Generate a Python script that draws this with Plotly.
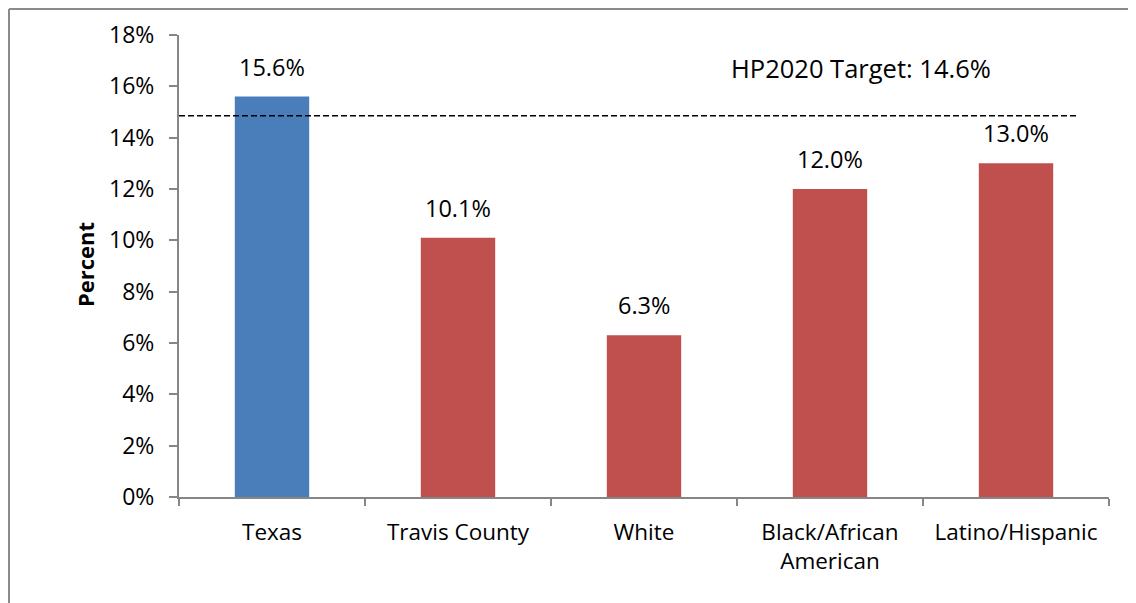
import plotly.graph_objects as go

categories = ["Texas", "Travis County", "White", "Black/African<br>American", "Latino/Hispanic"]
values = [15.6, 10.1, 6.3, 12.0, 13.0]
labels = ["15.6%", "10.1%", "6.3%", "12.0%", "13.0%"]
colors = ["#4A7EBB", "#C0504D", "#C0504D", "#C0504D", "#C0504D"]
target_line = 14.85
target_text = "HP2020 Target: 14.6%"
y_ticks = [0, 2, 4, 6, 8, 10, 12, 14, 16, 18]
y_tick_labels = ["0%", "2%", "4%", "6%", "8%", "10%", "12%", "14%", "16%", "18%"]

FONT = "Open Sans, Carlito, Lato, sans-serif"
FS = 22

# the page body adds an 8px offset; figure sized to the visible area
W, H = 1128, 595
L, R, T, B = 171, 27, 27, 106
PW, PH = W - L - R, H - T - B

fig = go.Figure()
fig.add_trace(go.Bar(
    x=categories, y=values, marker=dict(color=colors, line=dict(width=0)),
    width=0.4, showlegend=False, hoverinfo="skip",
))

for c, v, t in zip(categories, values, labels):
    fig.add_annotation(x=c, y=v, text=t, showarrow=False, yanchor="bottom",
                       xanchor="center", yshift=12,
                       font=dict(family=FONT, size=23.5, color="#000"))

fig.add_annotation(xref="paper", yref="paper", x=(861 - 8 - L) / PW,
                   y=(H - B - (68 - 8)) / PH, text=target_text,
                   xanchor="center", yanchor="middle",
                   showarrow=False, font=dict(family=FONT, size=25.5, color="#000"))

fig.add_annotation(xref="paper", yref="paper", x=(85 - 8 - L) / PW,
                   y=(H - B - (265 - 8)) / PH, text="<b>Percent</b>", textangle=-90,
                   xanchor="center", yanchor="middle",
                   showarrow=False, font=dict(family=FONT, size=FS, color="#000"))

fig.add_shape(type="line", xref="paper", yref="y", x0=0, x1=(1078 - 8 - L) / PW,
              y0=target_line, y1=target_line,
              line=dict(color="#000", width=1.5, dash="6px,3px"))

# outer border (partially visible)
bx = (1 - L) / PW
by = (H - B - 1) / PH
fig.add_shape(type="line", xref="paper", yref="paper", x0=bx, x1=1.2,
              y0=by, y1=by, line=dict(color="#8a8a8a", width=2))
fig.add_shape(type="line", xref="paper", yref="paper", x0=bx, x1=bx,
              y0=by, y1=-0.5, line=dict(color="#8a8a8a", width=2))

fig.update_layout(
    width=W, height=H,
    margin=dict(l=L, r=R, t=T, b=B, autoexpand=False),
    plot_bgcolor="white", paper_bgcolor="white",
    font=dict(family=FONT, size=FS, color="#000"),
    bargap=0.6,
    xaxis=dict(
        type="category", tickson="boundaries", ticks="outside", ticklen=7,
        tickcolor="#868686", tickwidth=2, showline=True, linecolor="#868686",
        linewidth=2, showgrid=False, tickfont=dict(family=FONT, size=FS + 0.5, color="#000"),
        range=[-0.5, 4.5], ticklabelstandoff=14, automargin=False,
    ),
    yaxis=dict(
        range=[0, 18], tickmode="array", tickvals=y_ticks, ticktext=y_tick_labels,
        ticks="outside", ticklen=8,
        tickcolor="#868686", tickwidth=2, showline=True, linecolor="#868686",
        linewidth=2, showgrid=False, zeroline=False, ticklabelstandoff=10,
        tickfont=dict(family=FONT, size=FS + 1, color="#000"), automargin=False,
    ),
)

fig.write_html("out.html")
